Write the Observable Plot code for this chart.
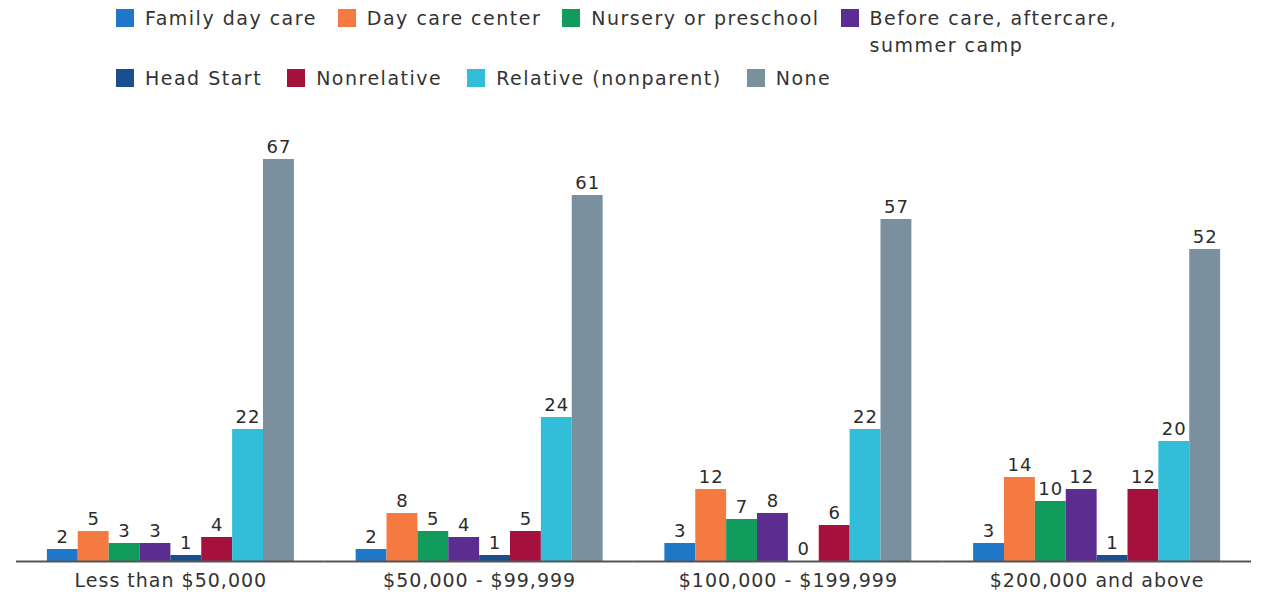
<!DOCTYPE html>
<html>
<head>
<meta charset="utf-8">
<script src="https://cdn.jsdelivr.net/npm/d3@7"></script>
<script src="https://cdn.jsdelivr.net/npm/@observablehq/plot@0.6"></script>
<style>
  html, body { margin: 0; padding: 0; background: #fff; }
  body { width: 1261px; height: 593px; overflow: hidden; font-family: "DejaVu Sans", sans-serif; }
  #legend { height: 100px; box-sizing: border-box; padding-left: 116px; color: #333; font-size: 19px; letter-spacing: 1.5px; }
  .row { display: flex; align-items: flex-start; gap: 25px; }
  .row1 { padding-top: 5px; height: 54px; gap: 21px; }
  .row2 { margin-top: 6px; }
  .item { display: flex; align-items: flex-start; line-height: 27px; }
  .sw { width: 18px; height: 18px; margin-top: 4px; margin-right: 11px; flex: none; }
  .wrap { max-width: 290px; }
  #chart svg { display: block; }
</style>
</head>
<body>
<div id="legend"></div>
<div id="chart"></div>
<script>
const groups = ["Less than $50,000", "$50,000 - $99,999", "$100,000 - $199,999", "$200,000 and above"];
const series = ["Family day care", "Day care center", "Nursery or preschool", "Before care, aftercare, summer camp",
                "Head Start", "Nonrelative", "Relative (nonparent)", "None"];
const colors = ["#1f77c8", "#f47a42", "#119c5e", "#5c2d91", "#1b4e8e", "#a6103d", "#32bdd9", "#7b909e"];

const familyDayCare = [2, 2, 3, 3];
const dayCareCenter = [5, 8, 12, 14];
const nurseryPreschool = [3, 5, 7, 10];
const beforeAfterCare = [3, 4, 8, 12];
const headStart = [1, 1, 0, 1];
const nonrelative = [4, 5, 6, 12];
const relative = [22, 24, 22, 20];
const none = [67, 61, 57, 52];

const seriesValues = [familyDayCare, dayCareCenter, nurseryPreschool, beforeAfterCare, headStart, nonrelative, relative, none];

const table = [];
groups.forEach((g, gi) => {
  series.forEach((s, si) => {
    table.push({group: g, series: s, value: seriesValues[si][gi]});
  });
});

// Legend
const legend = document.getElementById("legend");
[[0, 4], [4, 8]].forEach(([a, b], ri) => {
  const row = document.createElement("div");
  row.className = "row row" + (ri + 1);
  for (let i = a; i < b; i++) {
    const item = document.createElement("div");
    item.className = "item";
    const sw = document.createElement("span");
    sw.className = "sw";
    sw.style.background = colors[i];
    const t = document.createElement("span");
    t.textContent = series[i];
    if (i === 3) t.className = "wrap";
    item.appendChild(sw);
    item.appendChild(t);
    row.appendChild(item);
  }
  legend.appendChild(row);
});

const maxV = d3.max(table, d => d.value);

const chart = Plot.plot({
  width: 1261,
  height: 493,
  marginLeft: 16,
  marginRight: 10,
  marginTop: 59,
  marginBottom: 32,
  style: {fontFamily: "DejaVu Sans, sans-serif", fontSize: "19px", color: "#333", letterSpacing: "1px", background: "#fff"},
  fx: {domain: groups, padding: 0, round: false, label: null, axis: "bottom", tickSize: 0, tickPadding: 12},
  x: {domain: series, axis: null, paddingInner: 0, paddingOuter: 1, round: false},
  y: {domain: [0, maxV], axis: null},
  color: {domain: series, range: colors},
  marks: [
    Plot.barY(table, {fx: "group", x: "series", y: "value", fill: "series", inset: 0}),
    Plot.text(table, {fx: "group", x: "series", y: "value", text: d => String(d.value), dy: -12, fontSize: 18, fill: "#2b2b2b"}),
    Plot.ruleY([0], {stroke: "#555", strokeWidth: 2})
  ]
});
document.getElementById("chart").appendChild(chart);
</script>
</body>
</html>
